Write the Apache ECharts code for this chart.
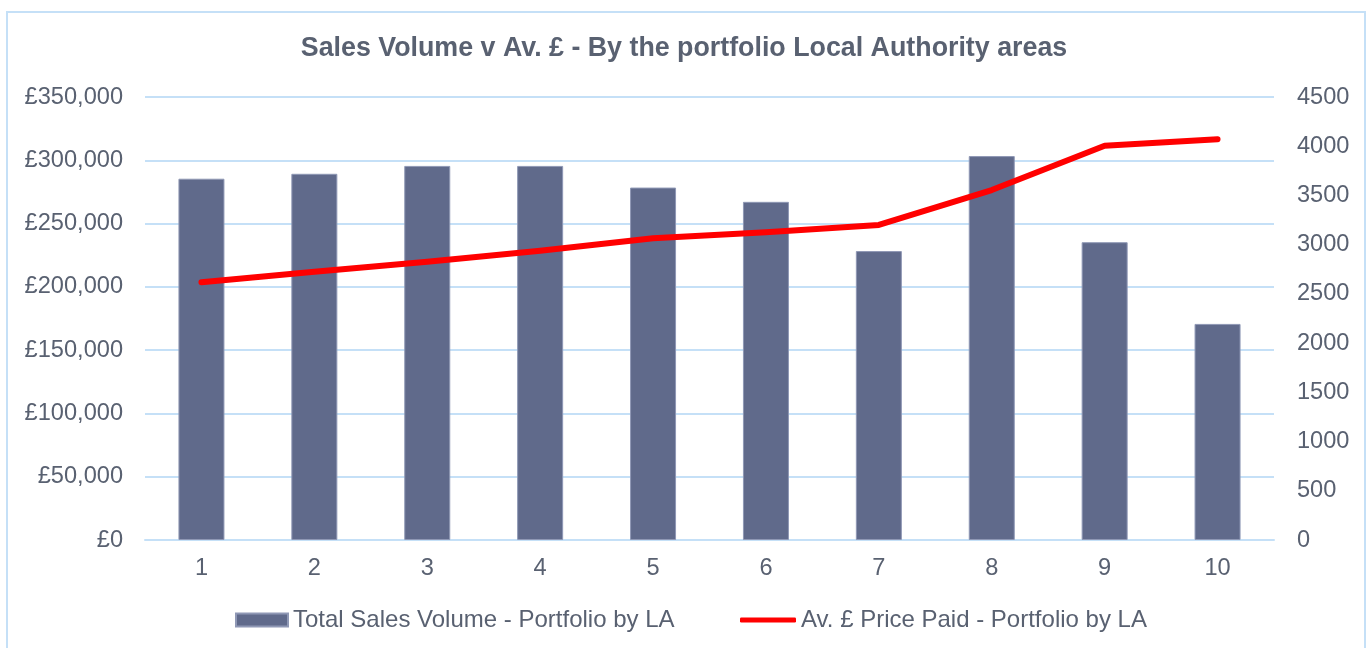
<!DOCTYPE html>
<html>
<head>
<meta charset="utf-8">
<script src="https://cdn.jsdelivr.net/npm/echarts@6/dist/echarts.min.js"></script>
<style>html,body{margin:0;padding:0;background:#fff;}#c{width:1368px;height:648px;}</style>
</head>
<body>
<div id="c"></div>
<script>
const categories = ['1','2','3','4','5','6','7','8','9','10'];
const salesVolume = [3670, 3720, 3800, 3800, 3580, 3435, 2935, 3900, 3025, 2195];
const avgPrice = [203600, 212000, 219900, 228600, 238400, 243100, 248900, 276500, 311500, 316600];
const titleText = 'Sales Volume v Av. £ - By the portfolio Local Authority areas';
const barName = 'Total Sales Volume - Portfolio by LA';
const lineName = 'Av. £ Price Paid - Portfolio by LA';

const textColor = '#596171';
const gridColor = '#C5E0F7';
const font = 'Liberation Sans, Arial, sans-serif';
const fs = 23.6;

const chart = echarts.init(document.getElementById('c'), null, {renderer: 'canvas'});
chart.setOption({
  animation: false,
  backgroundColor: '#fff',
  textStyle: {fontFamily: font},
  graphic: [{
    type: 'rect', shape: {x: 7, y: 12, width: 1358, height: 650},
    style: {fill: 'none', stroke: '#C5E0F7', lineWidth: 2}, silent: true, z: -1
  }],
  title: {
    text: titleText, left: 'center', top: 35, padding: 0,
    textStyle: {fontFamily: font, fontSize: 26.8, fontWeight: 'bold', color: textColor}
  },
  legend: [{
    data: [barName], left: 235, top: 608, padding: 0, icon: 'rect', itemWidth: 52, itemHeight: 13,
    textStyle: {fontFamily: font, fontSize: 24, color: textColor}
  }, {
    data: [lineName], left: 740, top: 608, padding: 0, icon: 'roundRect', itemWidth: 56, itemHeight: 5,
    textStyle: {fontFamily: font, fontSize: 24, color: textColor}
  }],
  grid: {left: 145, right: 94, top: 97, bottom: 108, containLabel: false},
  xAxis: {
    type: 'category', data: categories,
    axisLine: {show: true, lineStyle: {color: gridColor, width: 2}},
    axisTick: {show: false},
    axisLabel: {fontFamily: font, fontSize: fs, color: textColor, margin: 16}
  },
  yAxis: [{
    type: 'value', min: 0, max: 350000, interval: 50000, position: 'left',
    axisLine: {show: false}, axisTick: {show: false},
    splitLine: {show: true, lineStyle: {color: gridColor, width: 2}},
    axisLabel: {fontFamily: font, fontSize: fs, color: textColor, margin: 22,
      formatter: v => '£' + v.toLocaleString('en-GB')}
  }, {
    type: 'value', min: 0, max: 4500, interval: 500, position: 'right',
    axisLine: {show: false}, axisTick: {show: false},
    splitLine: {show: false},
    axisLabel: {fontFamily: font, fontSize: fs, color: textColor, margin: 23,
      formatter: v => String(v)}
  }],
  series: [{
    name: barName, type: 'bar', yAxisIndex: 1, data: salesVolume, barWidth: 46,
    itemStyle: {color: '#606A8B', borderColor: '#8F98B5', borderWidth: 1}, z: 2
  }, {
    name: lineName, type: 'line', yAxisIndex: 0, data: avgPrice,
    symbol: 'none', lineStyle: {color: '#FF0000', width: 6, cap: 'round', join: 'round'},
    itemStyle: {color: '#FF0000'}, z: 3
  }]
});
</script>
</body>
</html>
